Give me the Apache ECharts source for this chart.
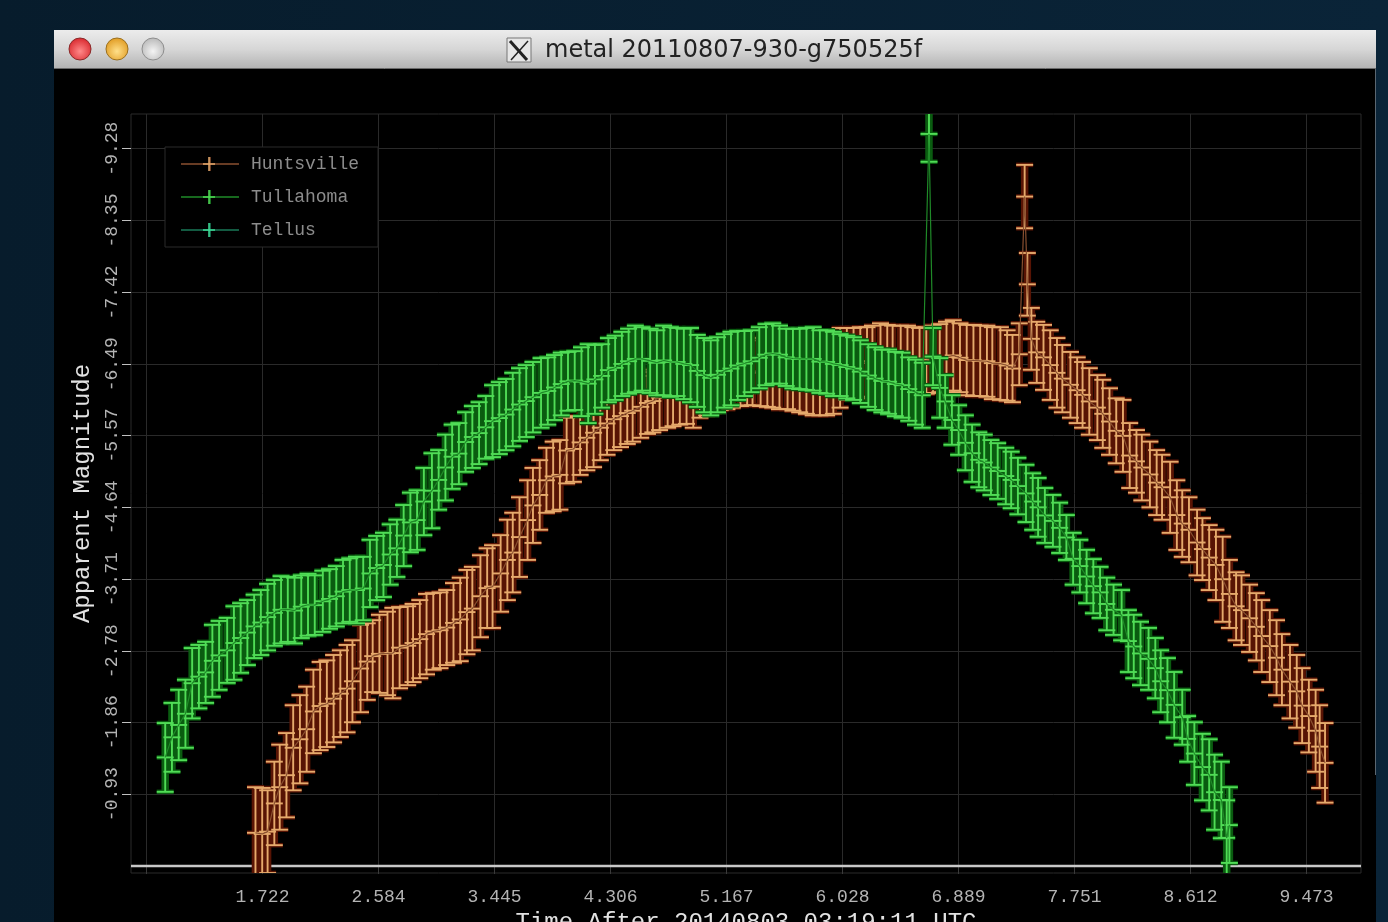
<!DOCTYPE html>
<html>
<head>
<meta charset="utf-8">
<title>metal 20110807-930-g750525f</title>
<style>
html, body { margin: 0; padding: 0; background: #071c2d; overflow: hidden; }
#chart { width: 1388px; height: 922px; }
#chart canvas { filter: blur(0.5px); }
</style>
<script src="https://cdn.jsdelivr.net/npm/echarts@6/dist/echarts.min.js"></script>
</head>
<body>
<div id="chart"></div>
<script>
var seriesNames = ['Huntsville', 'Tullahoma', 'Tellus'];
var xTicks = [0.861, 1.722, 2.584, 3.445, 4.306, 5.167, 6.028, 6.889, 7.751, 8.612, 9.473];
var xLabels = [1.722, 2.584, 3.445, 4.306, 5.167, 6.028, 6.889, 7.751, 8.612, 9.473];
var yTicks = [-0.93, -1.86, -2.78, -3.71, -4.64, -5.57, -6.49, -7.42, -8.35, -9.28];
var zeroTimes = [0.746, 9.877];
var zeroValues = [0, 0];

// [time, upper magnitude, lower magnitude]
var huntsvilleBars = [
    [1.67,-1.02,0.16],[1.72,-1.01,0.18],[1.76,-0.98,0.09],[1.81,-1.35,-0.27],[1.85,-1.57,-0.47],
    [1.90,-1.72,-0.63],[1.95,-2.08,-0.98],[2.00,-2.21,-1.07],[2.05,-2.32,-1.22],[2.10,-2.54,-1.46],
    [2.15,-2.64,-1.50],[2.20,-2.66,-1.54],[2.25,-2.73,-1.60],[2.30,-2.79,-1.67],[2.35,-2.86,-1.73],
    [2.39,-2.92,-1.86],[2.45,-3.12,-1.99],[2.50,-3.14,-2.15],[2.54,-3.18,-2.25],[2.59,-3.25,-2.24],
    [2.65,-3.29,-2.21],[2.69,-3.34,-2.17],[2.74,-3.35,-2.30],[2.80,-3.36,-2.34],[2.84,-3.39,-2.38],
    [2.89,-3.44,-2.43],[2.94,-3.52,-2.48],[2.99,-3.53,-2.54],[3.04,-3.54,-2.56],[3.09,-3.57,-2.60],
    [3.14,-3.66,-2.63],[3.19,-3.73,-2.65],[3.24,-3.83,-2.74],[3.28,-3.87,-2.79],[3.34,-4.02,-2.96],
    [3.39,-4.11,-3.08],[3.43,-4.15,-3.08],[3.49,-4.28,-3.29],[3.54,-4.48,-3.44],[3.58,-4.57,-3.54],
    [3.63,-4.77,-3.74],[3.69,-4.99,-3.96],[3.73,-5.15,-4.18],[3.78,-5.25,-4.35],[3.83,-5.41,-4.57],
    [3.88,-5.49,-4.59],[3.93,-5.51,-4.61],[3.98,-5.80,-4.95],[4.03,-5.82,-4.97],[4.08,-5.90,-5.06],
    [4.13,-5.96,-5.12],[4.18,-6.05,-5.16],[4.23,-6.09,-5.25],[4.28,-6.13,-5.32],[4.33,-6.18,-5.38],
    [4.38,-6.22,-5.42],[4.43,-6.26,-5.46],[4.47,-6.29,-5.49],[4.53,-6.34,-5.54],[4.58,-6.39,-5.59],
    [4.62,-6.42,-5.61],[4.67,-6.48,-5.64],[4.73,-6.52,-5.67],[4.77,-6.57,-5.69],[4.82,-6.60,-5.71],
    [4.87,-6.61,-5.72],[4.92,-6.64,-5.67],[4.97,-6.68,-5.80],[5.02,-6.70,-5.83],[5.07,-6.73,-5.87],
    [5.12,-6.75,-5.90],[5.17,-6.78,-5.91],[5.21,-6.78,-5.93],[5.27,-6.80,-5.95],[5.32,-6.80,-5.96],
    [5.36,-6.83,-5.96],[5.42,-6.83,-5.95],[5.47,-6.83,-5.94],[5.51,-6.83,-5.93],[5.56,-6.84,-5.91],
    [5.62,-6.84,-5.91],[5.66,-6.83,-5.89],[5.71,-6.84,-5.87],[5.76,-6.86,-5.85],[5.81,-6.86,-5.83],
    [5.86,-6.87,-5.83],[5.91,-6.87,-5.83],[5.96,-6.88,-5.85],[6.01,-6.96,-5.93],[6.06,-6.96,-6.03],
    [6.11,-6.96,-6.05],[6.16,-6.97,-6.05],[6.21,-6.97,-6.07],[6.25,-6.99,-6.07],[6.31,-7.02,-6.09],
    [6.36,-7.00,-6.08],[6.40,-6.99,-6.09],[6.46,-6.99,-6.11],[6.51,-6.99,-6.11],[6.55,-6.97,-6.09],
    [6.60,-6.96,-6.09],[6.65,-6.97,-6.11],[6.70,-6.99,-6.12],[6.75,-7.01,-6.13],[6.80,-7.04,-6.13],
    [6.85,-7.06,-6.15],[6.90,-7.02,-6.13],[6.95,-7.00,-6.09],[7.00,-7.00,-6.08],[7.05,-6.99,-6.08],
    [7.10,-6.99,-6.07],[7.14,-6.97,-6.04],[7.20,-6.97,-6.03],[7.25,-6.93,-6.02],[7.29,-6.87,-6.00],
    [7.34,-7.02,-6.22],[7.38,-9.07,-8.25],[7.40,-7.93,-7.12],[7.43,-7.22,-6.42],[7.47,-7.04,-6.25],
    [7.52,-7.00,-6.16],[7.57,-6.93,-6.03],[7.62,-6.83,-5.93],[7.66,-6.74,-5.87],[7.72,-6.65,-5.80],
    [7.77,-6.58,-5.73],[7.81,-6.52,-5.67],[7.86,-6.44,-5.58],[7.92,-6.35,-5.51],[7.96,-6.29,-5.41],
    [8.01,-6.18,-5.32],[8.06,-6.05,-5.21],[8.11,-6.03,-5.10],[8.16,-5.73,-4.89],[8.21,-5.64,-4.83],
    [8.25,-5.58,-4.73],[8.31,-5.49,-4.64],[8.36,-5.38,-4.54],[8.40,-5.32,-4.48],[8.46,-5.23,-4.31],
    [8.51,-4.99,-4.09],[8.55,-4.86,-4.00],[8.60,-4.77,-3.93],[8.66,-4.61,-3.76],[8.70,-4.50,-3.70],
    [8.75,-4.41,-3.57],[8.80,-4.35,-3.44],[8.85,-4.26,-3.16],[8.90,-3.96,-3.08],[8.95,-3.80,-2.92],
    [8.99,-3.76,-2.86],[9.05,-3.64,-2.77],[9.10,-3.53,-2.66],[9.14,-3.44,-2.51],[9.20,-3.31,-2.38],
    [9.25,-3.18,-2.21],[9.29,-3.00,-2.08],[9.35,-2.86,-1.91],[9.40,-2.73,-1.79],[9.44,-2.56,-1.59],
    [9.49,-2.41,-1.47],[9.54,-2.28,-1.22],[9.57,-2.08,-1.01],[9.61,-1.85,-0.82]
];
var tullahomaBars = [
    [1.00,-1.85,-0.96],[1.05,-2.11,-1.22],[1.10,-2.28,-1.37],[1.15,-2.41,-1.53],[1.20,-2.82,-1.91],
    [1.25,-2.86,-2.04],[1.30,-2.90,-2.11],[1.35,-3.12,-2.19],[1.40,-3.17,-2.28],[1.46,-3.21,-2.37],
    [1.51,-3.36,-2.41],[1.56,-3.40,-2.50],[1.61,-3.44,-2.60],[1.66,-3.51,-2.69],[1.71,-3.57,-2.73],
    [1.76,-3.65,-2.79],[1.81,-3.70,-2.85],[1.86,-3.75,-2.88],[1.91,-3.74,-2.90],[1.96,-3.73,-2.88],
    [2.01,-3.76,-2.95],[2.06,-3.78,-2.98],[2.11,-3.76,-2.99],[2.17,-3.82,-3.03],[2.22,-3.84,-3.07],
    [2.27,-3.88,-3.10],[2.32,-3.96,-3.14],[2.37,-3.98,-3.16],[2.42,-4.00,-3.14],[2.47,-4.00,-3.18],
    [2.52,-4.22,-3.35],[2.57,-4.27,-3.44],[2.62,-4.31,-3.48],[2.67,-4.42,-3.64],[2.72,-4.48,-3.74],
    [2.77,-4.67,-3.88],[2.82,-4.83,-4.06],[2.87,-4.86,-4.09],[2.92,-5.15,-4.28],[2.98,-5.34,-4.37],
    [3.03,-5.38,-4.61],[3.08,-5.58,-4.73],[3.13,-5.71,-4.88],[3.18,-5.73,-4.94],[3.23,-5.87,-5.10],
    [3.28,-5.95,-5.15],[3.33,-6.00,-5.20],[3.38,-6.08,-5.27],[3.43,-6.22,-5.29],[3.48,-6.26,-5.33],
    [3.53,-6.30,-5.38],[3.58,-6.38,-5.43],[3.63,-6.44,-5.50],[3.68,-6.48,-5.55],[3.73,-6.52,-5.61],
    [3.79,-6.57,-5.67],[3.84,-6.58,-5.71],[3.89,-6.61,-5.77],[3.94,-6.64,-5.83],[3.99,-6.65,-5.89],
    [4.04,-6.66,-5.90],[4.09,-6.71,-5.82],[4.14,-6.75,-5.73],[4.19,-6.74,-5.85],[4.24,-6.75,-5.93],
    [4.29,-6.83,-6.00],[4.34,-6.86,-6.03],[4.39,-6.91,-6.08],[4.44,-6.95,-6.11],[4.49,-6.99,-6.13],
    [4.54,-6.97,-6.15],[4.60,-6.95,-6.12],[4.65,-6.93,-6.09],[4.70,-6.99,-6.09],[4.75,-6.97,-6.07],
    [4.80,-6.96,-6.08],[4.85,-6.95,-6.04],[4.90,-6.96,-6.00],[4.95,-6.87,-5.94],[5.00,-6.83,-5.87],
    [5.05,-6.80,-5.83],[5.10,-6.84,-5.87],[5.15,-6.88,-5.93],[5.20,-6.91,-5.96],[5.25,-6.92,-6.03],
    [5.30,-6.92,-6.08],[5.35,-6.93,-6.13],[5.41,-6.97,-6.18],[5.46,-7.01,-6.22],[5.51,-7.02,-6.24],
    [5.56,-6.99,-6.24],[5.61,-6.95,-6.21],[5.66,-6.95,-6.18],[5.71,-6.95,-6.17],[5.76,-6.96,-6.16],
    [5.81,-6.97,-6.15],[5.86,-6.93,-6.12],[5.91,-6.93,-6.11],[5.96,-6.91,-6.08],[6.01,-6.88,-6.08],
    [6.06,-6.86,-6.05],[6.11,-6.84,-6.03],[6.16,-6.80,-5.99],[6.22,-6.75,-5.94],[6.27,-6.71,-5.90],
    [6.32,-6.68,-5.87],[6.37,-6.68,-5.85],[6.42,-6.65,-5.82],[6.47,-6.64,-5.80],[6.52,-6.58,-5.76],
    [6.57,-6.55,-5.71],[6.62,-6.51,-5.67],[6.67,-9.83,-9.11],[6.70,-6.96,-6.22],[6.75,-6.57,-5.80],
    [6.79,-6.35,-5.67],[6.84,-6.09,-5.45],[6.89,-5.96,-5.32],[6.94,-5.83,-5.12],[6.99,-5.71,-4.97],
    [7.04,-5.61,-4.90],[7.08,-5.58,-4.86],[7.13,-5.51,-4.80],[7.18,-5.47,-4.75],[7.24,-5.41,-4.68],
    [7.28,-5.36,-4.63],[7.33,-5.28,-4.55],[7.39,-5.19,-4.45],[7.44,-5.08,-4.35],[7.48,-5.02,-4.26],
    [7.53,-4.89,-4.18],[7.59,-4.80,-4.13],[7.64,-4.70,-4.05],[7.69,-4.54,-3.96],[7.74,-4.31,-3.64],
    [7.79,-4.22,-3.54],[7.84,-4.09,-3.40],[7.89,-3.97,-3.27],[7.94,-3.87,-3.21],[7.99,-3.73,-3.05],
    [8.04,-3.64,-2.99],[8.10,-3.57,-2.92],[8.15,-3.31,-2.51],[8.19,-3.25,-2.43],[8.24,-3.16,-2.34],
    [8.30,-3.08,-2.28],[8.35,-2.95,-2.17],[8.39,-2.79,-1.99],[8.44,-2.69,-1.86],[8.49,-2.51,-1.66],
    [8.55,-2.28,-1.57],[8.59,-1.94,-1.35],[8.64,-1.86,-1.05],[8.70,-1.71,-0.85],[8.75,-1.64,-0.72],
    [8.79,-1.44,-0.47],[8.84,-1.35,-0.36],[8.88,-0.85,0.12],[8.90,-1.02,-0.04]
];
var tellusBars = [];

var barColors = ['#e6aa6c', '#50dc56', '#3fdc98'];
var haloColors = ['#581404', '#0a5c10', '#0a5a3a'];
var lineColors = ['#8a5030', '#1f8a28', '#1a7a58'];

function barItem(color, halo) {
    return function(params, api) {
        var t = api.value(0);
        var up = api.value(1);
        var lo = api.value(2);
        var top = api.coord([t, up]);
        var mid = api.coord([t, (up + lo) / 2]);
        var bot = api.coord([t, lo]);
        var kids = [];
        function seg(x1, y1, x2, y2, haloWidth) {
            kids.push({
                type: 'line', z2: 1,
                shape: { x1: x1, y1: y1, x2: x2, y2: y2 },
                style: { stroke: halo, lineWidth: haloWidth }
            });
            kids.push({
                type: 'line', z2: 3,
                shape: { x1: x1, y1: y1, x2: x2, y2: y2 },
                style: { stroke: color, lineWidth: 1.9 }
            });
        }
        seg(top[0], top[1], bot[0], bot[1], 7.5);
        seg(top[0] - 8.5, top[1], top[0] + 8.5, top[1], 4.5);
        seg(mid[0] - 8.5, mid[1], mid[0] + 8.5, mid[1], 4.5);
        seg(bot[0] - 8.5, bot[1], bot[0] + 8.5, bot[1], 4.5);
        return { type: 'group', children: kids };
    };
}

var allBars = [huntsvilleBars, tullahomaBars, tellusBars];
var series = [{
    type: 'line',
    name: 'zero',
    data: zeroTimes.map(function(t, i) { return [t, zeroValues[i]]; }),
    symbol: 'none',
    silent: true,
    lineStyle: { color: '#c8c8c8', width: 2.5 },
    z: 1
}];
allBars.forEach(function(bars, i) {
    var z = 3 + i * 2;
    series.push({
        type: 'custom',
        name: seriesNames[i] + ' bars',
        data: bars,
        encode: { x: 0, y: [1, 2] },
        renderItem: barItem(barColors[i], haloColors[i]),
        clip: true,
        silent: true,
        z: z
    });
    series.push({
        type: 'line',
        name: seriesNames[i],
        data: bars.map(function(b) { return [b[0], (b[1] + b[2]) / 2]; }),
        symbol: 'none',
        clip: true,
        silent: true,
        lineStyle: { color: lineColors[i], width: 1.2 },
        itemStyle: { color: lineColors[i] },
        z: z + 1
    });
});

// window frame behind the plot
var chrome = [
    { type: 'rect', shape: { x: 0, y: 0, width: 1388, height: 922 }, z: -20,
      style: { fill: new echarts.graphic.LinearGradient(0, 0, 1, 0, [
          { offset: 0, color: '#071c2c' }, { offset: 1, color: '#0a2438' }
      ]) } },
    { type: 'rect', shape: { x: 54, y: 69, width: 1322, height: 853 }, z: -10, style: { fill: '#000' } },
    { type: 'line', shape: { x1: 1375.5, y1: 69, x2: 1375.5, y2: 775 }, z: -9,
      style: { stroke: '#5a6670', lineWidth: 1 } },
    { type: 'rect', shape: { x: 54, y: 30, width: 1322, height: 39 }, z: -10,
      style: { fill: new echarts.graphic.LinearGradient(0, 0, 0, 1, [
          { offset: 0, color: '#ececec' }, { offset: 0.5, color: '#d6d6d6' }, { offset: 1, color: '#b2b2b2' }
      ]) } },
    { type: 'line', shape: { x1: 54, y1: 68.5, x2: 1376, y2: 68.5 }, z: -9, style: { stroke: '#6a6a6a' } }
];
[[80, '#ff8a8a', '#d8262c', '#8a2a2a'], [117, '#ffe08a', '#e09a20', '#9a7020'], [153, '#f4f4f4', '#b8b8b8', '#8e8e8e']].forEach(function(c) {
    chrome.push({
        type: 'circle', shape: { cx: c[0], cy: 49, r: 11 }, z: -8,
        style: {
            fill: new echarts.graphic.RadialGradient(0.5, 0.6, 0.6, [
                { offset: 0, color: c[1] }, { offset: 1, color: c[2] }
            ]),
            stroke: c[3], lineWidth: 1
        }
    });
});
chrome.push(
    { type: 'rect', shape: { x: 507, y: 38, width: 24, height: 24 }, z: -8,
      style: { fill: '#e6e6e6', stroke: '#777', lineWidth: 1 } },
    { type: 'line', shape: { x1: 510, y1: 41, x2: 527, y2: 60 }, z: -7, style: { stroke: '#222', lineWidth: 3 } },
    { type: 'line', shape: { x1: 528, y1: 41, x2: 511, y2: 60 }, z: -7, style: { stroke: '#222', lineWidth: 1.5 } },
    { type: 'text', x: 545, y: 51, z: -7,
      style: { text: 'metal 20110807-930-g750525f', fill: '#222', font: '24px "DejaVu Sans"', textVerticalAlign: 'middle' } }
);
// bright plus of each legend key
[164, 197, 230].forEach(function(y, i) {
    chrome.push(
        { type: 'line', shape: { x1: 203, y1: y, x2: 215, y2: y }, z: 30, style: { stroke: barColors[i], lineWidth: 1.5 } },
        { type: 'line', shape: { x1: 209, y1: y - 7, x2: 209, y2: y + 7 }, z: 30, style: { stroke: barColors[i], lineWidth: 1.5 } }
    );
});

var legendIcon = 'path://M0 6.2H58V7.8H0ZM28.2 0H29.8V14H28.2Z';

var chart = echarts.init(document.getElementById('chart'), null, { renderer: 'canvas' });
chart.setOption({
    animation: false,
    backgroundColor: '#071c2d',
    tooltip: { show: false },
    graphic: { elements: chrome },
    legend: {
        left: 165,
        top: 147,
        orient: 'vertical',
        padding: [8, 19, 8, 16],
        itemWidth: 58,
        itemHeight: 14,
        itemGap: 15,
        backgroundColor: '#000',
        borderColor: '#2a2a2a',
        borderWidth: 1,
        selectedMode: false,
        z: 20,
        textStyle: { color: '#8c8c8c', fontFamily: 'Liberation Mono', fontSize: 18, padding: [0, 0, 0, 7] },
        data: seriesNames.map(function(n, i) {
            return { name: n, icon: legendIcon, itemStyle: { color: lineColors[i], borderWidth: 0 } };
        })
    },
    grid: {
        left: 131,
        top: 114,
        width: 1230,
        height: 759,
        outerBoundsMode: 'none',
        show: true,
        backgroundColor: 'transparent',
        borderColor: '#2a2a2a',
        borderWidth: 1
    },
    xAxis: {
        type: 'value',
        min: zeroTimes[0],
        max: zeroTimes[1],
        name: 'Time After 20140803 03:19:11 UTC',
        nameLocation: 'middle',
        nameGap: 36,
        nameTextStyle: { color: '#e2e2e2', fontFamily: 'Liberation Mono', fontSize: 24 },
        axisLine: { show: false },
        axisTick: { show: true, length: 8, customValues: xTicks, lineStyle: { color: '#3a3a3a' } },
        axisLabel: {
            customValues: xLabels,
            margin: 15,
            color: '#b4b4b4',
            fontFamily: 'Liberation Mono',
            fontSize: 18,
            formatter: function(v) { return v.toFixed(3); }
        },
        splitLine: { show: true, lineStyle: { color: '#2a2a2a', width: 1 } }
    },
    yAxis: {
        type: 'value',
        inverse: true,
        min: -9.728,
        max: 0.09,
        name: 'Apparent Magnitude',
        nameLocation: 'middle',
        nameRotate: 90,
        nameGap: 24,
        nameTextStyle: { color: '#e2e2e2', fontFamily: 'Liberation Mono', fontSize: 24 },
        axisLine: { show: false },
        axisTick: { show: true, length: 9, customValues: yTicks, lineStyle: { color: '#c0c0c0', width: 1 } },
        axisLabel: {
            customValues: yTicks,
            rotate: 90,
            margin: 10,
            color: '#b4b4b4',
            fontFamily: 'Liberation Mono',
            fontSize: 18,
            formatter: function(v) { return v.toFixed(2); }
        },
        splitLine: { show: true, lineStyle: { color: '#2a2a2a', width: 1 } }
    },
    series: series
});
</script>
</body>
</html>
